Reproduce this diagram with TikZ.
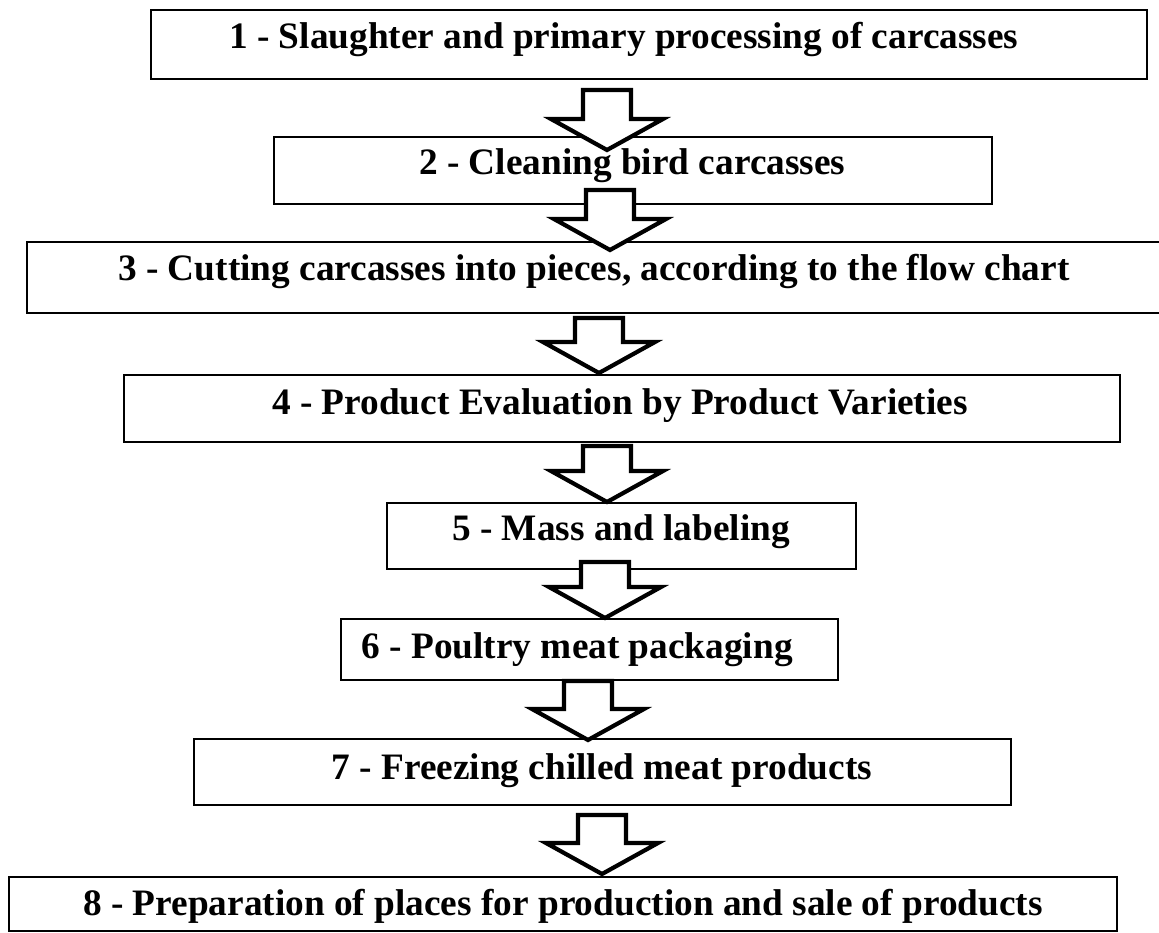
\documentclass[tikz,border=0pt]{standalone}
\usepackage{fontspec}
\setmainfont{Liberation Serif}
\usetikzlibrary{calc}

\begin{document}
\begin{tikzpicture}[x=1pt,y=-1pt,
	stepbox/.style={draw,rectangle,line width=1.8pt,inner sep=0pt},
	steptext/.style={anchor=base west,inner sep=0pt,font=\bfseries\fontsize{37.3}{44}\selectfont},
	blockarrow/.style={draw,line width=4.2pt,fill=white,
		to path={let \p1=(\tikztostart),\p2=(\tikztotarget) in
			(\x1-24pt,\y1)--(\x1+24pt,\y1)--(\x1+24pt,\y2+31pt)--(\x1+56pt,\y2+31pt)
			--(\x1,\y2)--(\x1-56pt,\y2+31pt)--(\x1-24pt,\y2+31pt)--cycle}}]
	\path[use as bounding box,clip] (0,0) rectangle (1159,933);
	\node[stepbox,minimum width=996,minimum height=69](b1) at (649,44.5){};
	\node[stepbox,minimum width=718,minimum height=67](b2) at (633,170.5){};
	\node[stepbox,minimum width=1143,minimum height=71,line width=2.4pt](b3) at (598.5,277.5){};
	\node[stepbox,minimum width=996,minimum height=67](b4) at (622,408.5){};
	\node[stepbox,minimum width=469,minimum height=66](b5) at (621.5,536){};
	\node[stepbox,minimum width=497,minimum height=61](b6) at (589.5,649.5){};
	\node[stepbox,minimum width=817,minimum height=66](b7) at (602.5,772){};
	\node[stepbox,minimum width=1108,minimum height=54](b8) at (563,904){};
	\node[steptext](t1) at (229,49){1 - Slaughter and primary processing of carcasses};
	\node[steptext](t2) at (419,175){2 - Cleaning bird carcasses};
	\node[steptext](t3) at (118,280){3 - Cutting carcasses into pieces, according to the flow chart};
	\node[steptext](t4) at (272,414){4 - Product Evaluation by Product Varieties};
	\node[steptext](t5) at (452,540.5){5 - Mass and labeling};
	\node[steptext](t6) at (361.5,658){6 - Poultry meat packaging};
	\node[steptext](t7) at (331.5,779){7 - Freezing chilled meat products};
	\node[steptext](t8) at (83,915){8 - Preparation of places for production and sale of products};
	\coordinate (a1) at (607,90);
	\coordinate (h1) at (607,150);
	\coordinate (a2) at (610,190);
	\coordinate (h2) at (610,250);
	\coordinate (a3) at (599,318);
	\coordinate (h3) at (599,373);
	\coordinate (a4) at (607,446);
	\coordinate (h4) at (607,502);
	\coordinate (a5) at (605,562);
	\coordinate (h5) at (605,618);
	\coordinate (a6) at (588,681);
	\coordinate (h6) at (588,740);
	\coordinate (a7) at (602,815);
	\coordinate (h7) at (602,874);
	\draw[blockarrow] (a1) to (h1);
	\draw[blockarrow] (a2) to (h2);
	\draw[blockarrow] (a3) to (h3);
	\draw[blockarrow] (a4) to (h4);
	\draw[blockarrow] (a5) to (h5);
	\draw[blockarrow] (a6) to (h6);
	\draw[blockarrow] (a7) to (h7);
\end{tikzpicture}
\end{document}
